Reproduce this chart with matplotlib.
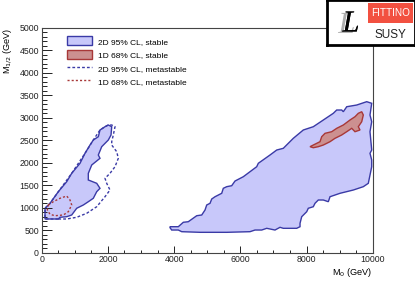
import numpy as np
import matplotlib.pyplot as plt
import matplotlib.patheffects as pe
from matplotlib.patches import Polygon, Rectangle
from matplotlib.lines import Line2D
from matplotlib.ticker import MultipleLocator

plt.rcParams['font.family'] = ['Liberation Sans', 'DejaVu Sans']

# contours (M0, M1/2 in GeV)
big_2d_m0 = [3876, 3927, 4127, 4230, 4782, 5589, 6293, 6444, 6647, 6798, 7048, 7199, 7299, 7704,
             7804, 7804, 7855, 8006, 8054, 8205, 8257, 8356, 8508, 8659, 8710, 9012, 9414, 9716,
             9867, 9970, 9970, 9918, 9970, 9918, 9970, 9918, 9970, 9819, 9517, 9215, 9112, 9063,
             8912, 8810, 8508, 8205, 7903, 7601, 7299, 7100, 6897, 6544, 6495, 6091, 5840, 5740,
             5589, 5486, 5438, 5236, 5136, 5085, 4985, 4934, 4834, 4683, 4429, 4278, 4127, 3876]
big_2d_m12 = [556, 504, 504, 467, 453, 453, 467, 504, 504, 542, 504, 564, 542, 542,
              578, 653, 800, 911, 987, 1022, 1098, 1171, 1171, 1133, 1244, 1320, 1393, 1467,
              1542, 1911, 2060, 2209, 2282, 2689, 2911, 3060, 3320, 3356, 3282, 3244, 3133, 3171,
              3171, 3098, 2949, 2800, 2727, 2542, 2320, 2282, 2171, 1987, 1911, 1689, 1593, 1489,
              1467, 1431, 1320, 1244, 1193, 1098, 1060, 949, 838, 822, 689, 676, 578, 578]

big_1d_m0 = [8106, 8205, 8408, 8459, 8559, 8761, 8912, 9112, 9314, 9465, 9565, 9668, 9716,
             9668, 9565, 9616, 9465, 9366, 9215, 9063, 8861, 8710, 8508, 8356, 8205]
big_1d_m12 = [2356, 2393, 2467, 2578, 2653, 2689, 2764, 2838, 2949, 3022, 3098, 3133, 3060,
              2911, 2800, 2727, 2689, 2764, 2689, 2616, 2542, 2467, 2393, 2356, 2333]

small_2d_m0 = [100, 100, 251, 502, 755, 906, 1157, 1308, 1459, 1559, 1710, 1761, 1912, 2012,
               2115, 2094, 2012, 1813, 1710, 1761, 1511, 1408, 1408, 1662, 1761, 1662, 1559,
               1408, 1257, 1057, 906, 755, 553, 502]
small_2d_m12 = [749, 987, 1098, 1356, 1578, 1764, 1987, 2209, 2393, 2504, 2578, 2727, 2800, 2838,
                2800, 2616, 2504, 2356, 2171, 2098, 1949, 1764, 1616, 1542, 1431, 1356, 1209,
                1133, 1060, 987, 838, 800, 787, 749]

meta_2d_m0 = [502, 755, 1057, 1360, 1662, 1912, 2063, 1964, 1912, 2063, 2215, 2314, 2266, 2115,
              2115, 2163, 2215, 2115, 2012, 1912, 1761, 1559, 1308, 906, 502, 251, 100, 100, 502]
meta_2d_m12 = [749, 749, 787, 876, 1022, 1244, 1393, 1542, 1653, 1764, 1911, 2098, 2244, 2393,
               2467, 2616, 2800, 2838, 2838, 2800, 2727, 2504, 2209, 1764, 1356, 1098, 987, 749, 749]

meta_1d_m0 = [199, 350, 553, 755, 855, 906, 804, 653, 402, 251, 169, 199]
meta_1d_m12 = [1060, 1133, 1209, 1260, 1171, 1060, 911, 838, 822, 853, 949, 1060]

labels = ['2D 95% CL, stable', '1D 68% CL, stable',
          '2D 95% CL, metastable', '1D 68% CL, metastable']

blue_fill = '#c8c8fa'
blue_line = '#3a3aa6'
red_fill = '#cc9090'
red_line = '#a83838'

fig = plt.figure(figsize=(4.15, 2.81), dpi=100)
ax = fig.add_axes([0.1005, 0.1007, 0.7976, 0.8007])

ax.plot(meta_2d_m0, meta_2d_m12, color=blue_line, lw=1.0, ls=(0, (2, 1.5)))
for xs, ys in [(big_2d_m0, big_2d_m12), (small_2d_m0, small_2d_m12)]:
    ax.add_patch(Polygon(np.column_stack([xs, ys]), closed=True, fc=blue_fill,
                         ec=blue_line, lw=1.0))
ax.add_patch(Polygon(np.column_stack([big_1d_m0, big_1d_m12]), closed=True, fc=red_fill,
                     ec=red_line, lw=1.0))
ax.plot(meta_1d_m0, meta_1d_m12, color=red_line, lw=1.0, ls=(0, (1.5, 1.5)))

ax.set_xlim(0, 10000)
ax.set_ylim(0, 5000)
ax.xaxis.set_major_locator(MultipleLocator(2000))
ax.xaxis.set_minor_locator(MultipleLocator(500))
ax.yaxis.set_major_locator(MultipleLocator(500))
ax.yaxis.set_minor_locator(MultipleLocator(100))
ax.tick_params(which='both', direction='in', labelsize=6.3, colors='#222222',
               width=0.7, pad=2)
ax.tick_params(axis='x', which='major', length=4.8)
ax.tick_params(axis='x', which='minor', length=2.4)
ax.tick_params(axis='y', which='major', length=7.0)
ax.tick_params(axis='y', which='minor', length=3.5)
for s in ax.spines.values():
    s.set_linewidth(0.8)
    s.set_color('#444444')

ax.set_xlabel('M$_0$ (GeV)', fontsize=6.6, loc='right', labelpad=1)
ax.set_ylabel('M$_{1/2}$ (GeV)', fontsize=6.6, loc='top', labelpad=4)

handles = [Rectangle((0, 0), 1, 1, fc=blue_fill, ec=blue_line, lw=1.0),
           Rectangle((0, 0), 1, 1, fc=red_fill, ec=red_line, lw=1.0),
           Line2D([], [], color=blue_line, lw=1.0, ls=(0, (2, 1.5))),
           Line2D([], [], color=red_line, lw=1.0, ls=(0, (1.5, 1.5)))]
leg = ax.legend(handles, labels, loc='upper left', bbox_to_anchor=(0.077, 0.962),
                frameon=False, fontsize=6.0, handlelength=3.0, handleheight=1.3,
                handletextpad=0.75, labelspacing=0.5, borderaxespad=0, borderpad=0)

# FITTINO logo in the top right corner
logo = fig.add_axes([327 / 415, 1 - 45 / 281, 88 / 415, 45 / 281])
logo.set_xlim(0, 88)
logo.set_ylim(0, 45)
logo.set_xticks([])
logo.set_yticks([])
for s in logo.spines.values():
    s.set_linewidth(2.0)
    s.set_color('black')
logo.add_patch(Rectangle((41, 22), 45, 20, fc='#f25040', ec='none'))
logo.text(63.5, 32, 'FITTINO', color='white', fontsize=7.2, ha='center', va='center')
logo.text(63, 10, 'SUSY', color='#222222', fontsize=8.5, ha='center', va='center')
logo.text(24, 21, 'L', color='black', fontsize=22, ha='center', va='center',
          family='Liberation Serif', style='italic',
          path_effects=[pe.withSimplePatchShadow(offset=(-3, -1), shadow_rgbFace='#999999',
                                                 alpha=0.8),
                        pe.Normal()])

fig.savefig('out.png', dpi=100)
